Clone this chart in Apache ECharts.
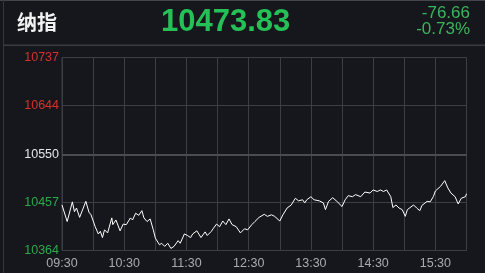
<!DOCTYPE html>
<html>
<head>
<meta charset="utf-8">
<script src="https://cdn.jsdelivr.net/npm/echarts@6/dist/echarts.min.js"></script>
<style>
html,body{margin:0;padding:0;background:#15171c;}
#c{width:485px;height:273px;}
</style>
</head>
<body>
<div id="c"></div>
<script>
// minutes after 09:30
var times = [0,5,10,12,14,17,23,26,28,32,35,37,39,41,44,48,49,52,56,59,62,66,68,71,74,77,79,82,85,88,90,94,96,99,102,105,108,112,114,118,121,124,126,130,134,138,140,144,146,149,152,155,158,161,164,168,172,176,179,183,186,190,195,198,202,205,210,213,217,221,225,228,232,234,236,240,243,248,252,254,257,261,265,270,273,276,280,283,288,292,297,300,304,307,310,313,317,319,322,325,328,331,333,339,342,345,347,352,355,358,360,365,369,372,375,379,382,385,389,390];
var prices = [10452,10420,10458,10439,10446,10428,10459,10438,10433,10410,10396,10401,10389,10404,10398,10427,10414,10423,10402,10415,10414,10427,10423,10436,10432,10441,10427,10420,10425,10404,10388,10375,10378,10372,10378,10368,10372,10383,10378,10396,10393,10389,10396,10402,10389,10400,10393,10401,10407,10415,10410,10421,10414,10425,10414,10410,10398,10406,10404,10414,10420,10428,10434,10430,10433,10430,10421,10433,10446,10452,10465,10460,10462,10456,10462,10468,10462,10460,10456,10443,10459,10466,10459,10449,10462,10470,10468,10472,10468,10477,10475,10481,10478,10481,10478,10481,10468,10447,10452,10446,10443,10430,10443,10452,10446,10441,10451,10459,10458,10468,10479,10488,10499,10485,10475,10468,10454,10465,10468,10473.83];
var yTicks = [10364,10457,10550,10644,10737];
var xTickLabels = {0:'09:30',60:'10:30',120:'11:30',180:'12:30',240:'13:30',300:'14:30',360:'15:30'};
var prevClose = 10550.49;
var indexName = '纳指';
var lastPrice = '10473.83';
var change = '-76.66';
var changePct = '-0.73%';

var data = times.map(function(t,i){return [t, prices[i]];});
var chart = echarts.init(document.getElementById('c'));
var FONT = '"Liberation Sans", Arial, "Noto Sans CJK SC", sans-serif';
chart.setOption({
  backgroundColor:'#15171c',
  animation:false,
  grid:{left:62,right:18.5,top:57.5,bottom:22.5,show:true,borderColor:'#3c3e43',borderWidth:1},
  xAxis:{
    type:'value',min:0,max:390,interval:30,
    axisLine:{show:false},axisTick:{show:false},
    splitLine:{show:true,lineStyle:{color:'#3c3e43',width:1}},
    axisLabel:{margin:7,color:'#a8abb1',fontSize:12.5,fontFamily:FONT,
      formatter:function(v){return xTickLabels[v]||'';}}
  },
  yAxis:{
    type:'value',min:10364,max:10737,
    axisLine:{show:false},
    axisTick:{show:false,customValues:yTicks},
    splitLine:{show:true,lineStyle:{color:'#3c3e43',width:1}},
    axisLabel:{customValues:yTicks,margin:3,fontSize:12.5,fontFamily:FONT,
      color:function(v){ v=Number(v); return v>prevClose+1?'#d6322d':(v<prevClose-1?'#2ea84c':'#e4e6ea'); },
      formatter:function(v){return String(Math.round(v));}}
  },
  series:[{
    type:'line',data:data,showSymbol:false,symbol:'none',
    lineStyle:{color:'#ffffff',width:1},
    markLine:{silent:true,symbol:'none',label:{show:false},
      lineStyle:{color:'#4a4c51',width:2,type:'solid'},
      data:[{yAxis:10550}]}
  }],
  graphic:[
    {type:'rect',shape:{x:0,y:0,width:485,height:1},style:{fill:'#44464b'}},
    {type:'rect',shape:{x:3,y:0,width:1,height:273},style:{fill:'#34363b'}},
    {type:'rect',shape:{x:3,y:44.5,width:482,height:1.5},style:{fill:'#3a3c41'}},
    {type:'text',left:17,top:12,style:{text:indexName,fill:'#f2f2f2',font:'bold 20px "Noto Sans CJK SC", sans-serif'}},
    {type:'text',left:161,top:7,style:{text:lastPrice,fill:'#25c056',font:'bold 31px '+FONT}},
    {type:'text',right:15,top:5,style:{text:change,fill:'#3db45c',font:'17px '+FONT,align:'right'}},
    {type:'text',right:15,top:21,style:{text:changePct,fill:'#3db45c',font:'17px '+FONT,align:'right'}}
  ]
});
</script>
</body>
</html>
